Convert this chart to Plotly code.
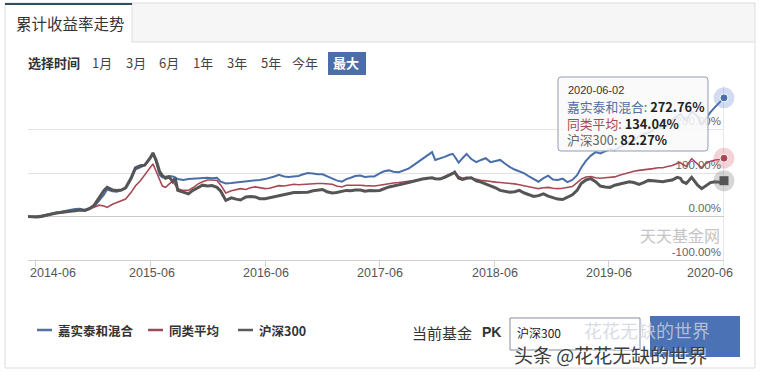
import plotly.graph_objects as go

# ---------------- data ----------------
dates = [
    "2014-05-08", "2014-05-20", "2014-06-05", "2014-06-20", "2014-07-05", "2014-07-20", "2014-08-05", "2014-08-20",
    "2014-09-05", "2014-09-20", "2014-10-05", "2014-10-20", "2014-11-05", "2014-11-20", "2014-12-05", "2014-12-20",
    "2015-01-05", "2015-01-15", "2015-02-01", "2015-02-15", "2015-03-01", "2015-03-15", "2015-04-01", "2015-04-15",
    "2015-05-01", "2015-05-15", "2015-06-01", "2015-06-10", "2015-06-20", "2015-07-01", "2015-07-10", "2015-07-20",
    "2015-08-01", "2015-08-12", "2015-08-20", "2015-08-28", "2015-09-15", "2015-10-01", "2015-10-15", "2015-11-01",
    "2015-11-15", "2015-12-01", "2015-12-15", "2015-12-31",
    "2016-01-12", "2016-01-28", "2016-02-15", "2016-03-01", "2016-03-15", "2016-04-01", "2016-04-15", "2016-05-01",
    "2016-05-15", "2016-06-01", "2016-06-15", "2016-07-01", "2016-07-15", "2016-08-01", "2016-08-15", "2016-09-01",
    "2016-09-15", "2016-10-01", "2016-10-15", "2016-11-01", "2016-11-15", "2016-12-01", "2016-12-15",
    "2017-01-01", "2017-01-15", "2017-02-01", "2017-02-15", "2017-03-01", "2017-03-15", "2017-04-01", "2017-04-15",
    "2017-05-01", "2017-05-15", "2017-06-01", "2017-06-15", "2017-07-01", "2017-07-15", "2017-08-01", "2017-08-15",
    "2017-09-01", "2017-09-15", "2017-10-01", "2017-10-15", "2017-11-01", "2017-11-15", "2017-11-25", "2017-12-10",
    "2017-12-25",
    "2018-01-10", "2018-01-20", "2018-01-26", "2018-02-08", "2018-02-20", "2018-03-05", "2018-03-20", "2018-04-05",
    "2018-04-20", "2018-05-05", "2018-05-20", "2018-06-05", "2018-06-20", "2018-07-05", "2018-07-20", "2018-08-05",
    "2018-08-20", "2018-09-05", "2018-09-20", "2018-10-05", "2018-10-20", "2018-11-05", "2018-11-20", "2018-12-05",
    "2018-12-20",
    "2019-01-05", "2019-01-20", "2019-02-05", "2019-02-20", "2019-03-05", "2019-03-20", "2019-04-05", "2019-04-20",
    "2019-05-05", "2019-05-20", "2019-06-05", "2019-06-20", "2019-07-05", "2019-07-20", "2019-08-05", "2019-08-20",
    "2019-09-05", "2019-09-20", "2019-10-05", "2019-10-20", "2019-11-05", "2019-11-20", "2019-12-05", "2019-12-20",
    "2020-01-05", "2020-01-15", "2020-01-22", "2020-02-03", "2020-02-20", "2020-03-10", "2020-03-23", "2020-04-05",
    "2020-04-20", "2020-05-05", "2020-05-20", "2020-06-02",
]

fund = [  # 嘉实泰和混合 (%)
    0, -1, 0, 2, 4, 7, 9, 11, 14, 15, 17, 18, 15, 20, 24, 36,
    50, 62, 58, 57, 60, 65, 85, 108, 114, 118, 136, 144, 126, 96, 90, 92, 93, 92, 90, 86, 84, 86, 87, 88, 89, 89, 88, 89,
    80, 76, 77, 78, 79, 81, 82, 83, 84, 86, 88, 92, 96, 92, 91, 92, 93, 97, 100, 99, 97, 97, 93,
    88, 83, 80, 86, 89, 93, 94, 91, 92, 92, 99, 104, 106, 103, 102, 106, 110, 117, 125, 133, 140, 148, 130, 133, 137,
    142, 144, 138, 124, 134, 144, 132, 125, 130, 134, 125, 127, 130, 122, 114, 108, 104, 99, 92, 85, 80, 88, 94, 85, 84,
    87, 79, 84, 95, 112, 128, 140, 148, 145, 150, 155, 152, 160, 166, 170, 175, 184, 190, 192, 198, 205, 202, 210, 222,
    232, 236, 230, 220, 242, 230, 212, 226, 240, 252, 262, 272.76,
]

peer = [  # 同类平均 (%)
    0, 0, 0, 1, 3, 5, 7, 9, 11, 12, 13, 15, 13, 17, 21, 26,
    24, 21, 28, 32, 36, 40, 55, 70, 82, 96, 112, 121, 104, 84, 70, 67, 76, 82, 72, 64, 60, 60, 66, 75, 80, 84, 84, 83,
    72, 54, 59, 62, 64, 62, 66, 68, 66, 64, 65, 68, 71, 70, 72, 74, 73, 74, 75, 76, 76, 76, 75,
    74, 70, 68, 72, 72, 73, 72, 71, 71, 70, 72, 74, 76, 77, 78, 80, 81, 82, 84, 85, 87, 89, 86, 87, 92,
    96, 100, 102, 92, 88, 90, 88, 85, 83, 82, 80, 79, 78, 77, 77, 75, 73, 71, 68, 66, 64, 66, 67, 65, 64,
    65, 67, 69, 78, 86, 91, 92, 89, 88, 89, 90, 91, 95, 98, 102, 104, 106, 107, 108, 110, 112, 112, 115, 117,
    122, 124, 120, 115, 133, 120, 112, 122, 127, 130, 131, 134.04,
]

hs300 = [  # 沪深300 (%)
    0, -1, -1, 0, 3, 6, 8, 9, 11, 12, 13, 15, 14, 18, 26, 44,
    60, 67, 61, 60, 61, 66, 88, 112, 117, 118, 134, 146, 130, 104, 94, 88, 91, 80, 88, 60, 55, 52, 60, 67, 72, 70, 71, 67,
    58, 37, 43, 40, 38, 45, 46, 45, 41, 41, 43, 46, 48, 49, 52, 55, 55, 56, 56, 59, 61, 62, 57,
    54, 55, 57, 60, 59, 61, 61, 58, 60, 59, 60, 64, 68, 70, 72, 75, 78, 81, 84, 86, 88, 89, 87, 86, 90,
    95, 99, 102, 88, 85, 88, 89, 82, 79, 75, 71, 66, 60, 58, 56, 57, 60, 54, 50, 46, 48, 52, 47, 44, 40,
    39, 45, 50, 60, 76, 84, 87, 80, 70, 68, 67, 72, 75, 77, 80, 78, 74, 78, 83, 82, 81, 80, 82, 84,
    90, 88, 80, 76, 90, 72, 64, 70, 78, 80, 79, 82.27,
]

series_names = ["嘉实泰和混合", "同类平均", "沪深300"]
x_tick_dates = ["2014-06-01", "2015-06-01", "2016-06-01", "2017-06-01", "2018-06-01", "2019-06-01", "2020-06-01"]
x_tick_labels = ["2014-06", "2015-06", "2016-06", "2017-06", "2018-06", "2019-06", "2020-06"]
y_tick_vals = [-100, 0, 100, 200]
y_tick_text = ["-100.00%", "0.00%", "100.00%", "200.00%"]
tooltip_date = "2020-06-02"
time_buttons = ["1月", "3月", "6月", "1年", "3年", "5年", "今年", "最大"]

# ---------------- styling ----------------
W, H = 761, 372
BLUE = "#4a6fa8"
RED = "#a84854"
GREY = "#555555"
CJK = "Noto Sans CJK SC"
LAT = "Liberation Sans"


def px(x):
    return x / W


def py(y):
    return 1 - y / H


fig = go.Figure()

colors = [BLUE, RED, GREY]
widths = [2, 1.6, 3]
for name, vals, c, w in zip(series_names, [fund, peer, hs300], colors, widths):
    fig.add_trace(go.Scatter(x=dates, y=vals, name=name, mode="lines",
                             line=dict(color=c, width=w), hoverinfo="skip"))

# end-point halos and markers
halo = ["rgba(90,125,205,0.28)", "rgba(215,95,110,0.28)", "rgba(120,120,120,0.30)"]
symbols = ["circle", "circle", "square"]
for vals, c, hc, sym in zip([fund, peer, hs300], colors, halo, symbols):
    fig.add_trace(go.Scatter(x=[dates[-1]], y=[vals[-1]], mode="markers", cliponaxis=False,
                             marker=dict(size=21, color=hc, line=dict(width=0)), hoverinfo="skip"))
    fig.add_trace(go.Scatter(x=[dates[-1]], y=[vals[-1]], mode="markers", cliponaxis=False,
                             marker=dict(size=8 if sym == "circle" else 9, color=c, symbol=sym,
                                         line=dict(width=1, color="white") if sym == "circle" else dict(width=0)),
                             hoverinfo="skip"))

shapes = []
annotations = []

# panel frame and header
shapes.append(dict(type="rect", xref="paper", yref="paper", x0=px(132), x1=px(755), y0=py(42), y1=py(3),
                   fillcolor="#f6f6f6", line=dict(width=0), layer="below"))
shapes.append(dict(type="rect", xref="paper", yref="paper", x0=px(5), x1=px(755), y0=py(368), y1=py(3),
                   fillcolor="rgba(0,0,0,0)", line=dict(color="#dddddd", width=1), layer="below"))
shapes.append(dict(type="line", xref="paper", yref="paper", x0=px(132), x1=px(755), y0=py(42), y1=py(42),
                   line=dict(color="#dddddd", width=1), layer="below"))
shapes.append(dict(type="line", xref="paper", yref="paper", x0=px(132), x1=px(132), y0=py(42), y1=py(3),
                   line=dict(color="#dddddd", width=1), layer="below"))
shapes.append(dict(type="line", xref="paper", yref="paper", x0=px(5), x1=px(132), y0=py(4), y1=py(4),
                   line=dict(color="#2e4d5e", width=2), layer="below"))
annotations.append(dict(x=px(14), y=py(23), xref="paper", yref="paper", xanchor="left", yanchor="middle",
                        text="累计收益率走势", showarrow=False, font=dict(family=CJK, size=15.5, color="#333")))

# time selector
annotations.append(dict(x=px(26), y=py(63), xref="paper", yref="paper", xanchor="left", yanchor="middle",
                        text="<b>选择时间</b>", showarrow=False, font=dict(family=CJK, size=13, color="#333")))
btn_centers = [102, 136, 169, 203, 237, 271, 305, 346]
for lab, cx in zip(time_buttons, btn_centers):
    sel = lab == "最大"
    if sel:
        shapes.append(dict(type="rect", xref="paper", yref="paper", x0=px(328), x1=px(366), y0=py(75), y1=py(52),
                           fillcolor="#4b6ea9", line=dict(width=0), layer="below"))
    annotations.append(dict(x=px(cx), y=py(63), xref="paper", yref="paper", xanchor="center", yanchor="middle",
                            text=("<b>%s</b>" % lab) if sel else lab, showarrow=False,
                            font=dict(family=CJK, size=13, color="white" if sel else "#444")))

# crosshair
shapes.append(dict(type="line", xref="x", yref="paper", x0=tooltip_date, x1=tooltip_date,
                   y0=py(266), y1=py(86), line=dict(color="#cfcfcf", width=1), layer="below"))

# x-axis labels (clamped inside like the original)
x_label_centers = [53, 152, 266, 380, 495, 609, 710]
for lab, cx in zip(x_tick_labels, x_label_centers):
    annotations.append(dict(x=px(cx), y=py(273), xref="paper", yref="paper", xanchor="center", yanchor="middle",
                            text=lab, showarrow=False, font=dict(family=LAT, size=12.5, color="#555")))

# watermark in plot
annotations.append(dict(x=px(722), y=py(235), xref="paper", yref="paper", xanchor="right", yanchor="middle",
                        text="天天基金网", showarrow=False, font=dict(family=CJK, size=16, color="#c4c4c4")))

# tooltip box (rounded)
x0, x1, y0, y1, r = 558, 708, 77, 151, 3
path = ("M {a},{b} L {c},{b} Q {x1},{b} {x1},{d} L {x1},{e} Q {x1},{y1} {c},{y1} L {a},{y1} "
        "Q {x0},{y1} {x0},{e} L {x0},{d} Q {x0},{b} {a},{b} Z").format(
    a=px(x0 + r), b=py(y0), c=px(x1 - r), d=py(y0 + r), e=py(y1 - r),
    x0=px(x0), x1=px(x1), y1=py(y1))
shapes.append(dict(type="path", xref="paper", yref="paper", path=path,
                   fillcolor="rgba(249,249,249,0.86)", line=dict(color="#8f9db5", width=1), layer="above"))
annotations.append(dict(x=px(566), y=py(90), xref="paper", yref="paper", xanchor="left", yanchor="middle",
                        text=tooltip_date, showarrow=False, font=dict(family=LAT, size=11, color="#333")))
tip_vals = [fund[-1], peer[-1], hs300[-1]]
tip_cols = [BLUE, RED, "#666666"]
tip_lines = ["<span style='color:%s'>%s: </span><b>%.2f%%</b>" % (c, nm, v)
             for nm, v, c in zip(series_names, tip_vals, tip_cols)]
annotations.append(dict(x=px(566), y=py(123), xref="paper", yref="paper", xanchor="left", yanchor="middle",
                        align="left", showarrow=False, borderpad=0, text="<br>".join(tip_lines),
                        font=dict(family=CJK, size=12.8, color="#222")))

# legend
leg_x = [37, 148, 238]
leg_cols = ["#56709a", "#9c4a55", "#5a5a5a"]
for nm, lx, c in zip(series_names, leg_x, leg_cols):
    shapes.append(dict(type="line", xref="paper", yref="paper", x0=px(lx), x1=px(lx + 15), y0=py(330), y1=py(330),
                       line=dict(color=c, width=2.5)))
    annotations.append(dict(x=px(lx + 19), y=py(330), xref="paper", yref="paper", xanchor="left", yanchor="middle",
                            text="<b>%s</b>" % nm, showarrow=False, font=dict(family=CJK, size=12.5, color="#333")))

# PK area
annotations.append(dict(x=px(410), y=py(332), xref="paper", yref="paper", xanchor="left", yanchor="middle",
                        text="当前基金", showarrow=False, font=dict(family=CJK, size=15, color="#333")))
annotations.append(dict(x=px(480), y=py(332), xref="paper", yref="paper", xanchor="left", yanchor="middle",
                        text="<b>PK</b>", showarrow=False, font=dict(family=LAT, size=14, color="#333")))
shapes.append(dict(type="rect", xref="paper", yref="paper", x0=px(510), x1=px(640), y0=py(350), y1=py(318),
                   fillcolor="white", line=dict(color="#7f8ea8", width=1)))
annotations.append(dict(x=px(515), y=py(332), xref="paper", yref="paper", xanchor="left", yanchor="middle",
                        text="沪深300", showarrow=False, font=dict(family=CJK, size=12, color="#222")))
shapes.append(dict(type="rect", xref="paper", yref="paper", x0=px(650), x1=px(740), y0=py(357), y1=py(316),
                   fillcolor="#4a72b4", line=dict(width=0)))

# overlaid watermarks
annotations.append(dict(x=px(582), y=py(330), xref="paper", yref="paper", xanchor="left", yanchor="middle",
                        text="花花无缺的世界", showarrow=False,
                        font=dict(family=CJK, size=18, color="rgba(205,210,222,0.80)")))
annotations.append(dict(x=px(512), y=py(354), xref="paper", yref="paper", xanchor="left", yanchor="middle",
                        text="头条 @花花无缺的世界", showarrow=False,
                        font=dict(family=CJK, size=19, color="#3c3c3c", shadow="1px 1px 1px white")))

fig.update_layout(
    width=W, height=H, margin=dict(l=0, r=0, t=0, b=0),
    paper_bgcolor="white", plot_bgcolor="white", showlegend=False,
    shapes=shapes, annotations=annotations,
    xaxis=dict(domain=[px(28), px(724)], range=[dates[0], dates[-1]], type="date",
               showgrid=False, zeroline=False, showline=True, linecolor="#d0d0d0", linewidth=1,
               tickvals=x_tick_dates, showticklabels=False, ticks="outside", ticklen=6,
               tickcolor="#d0d0d0", fixedrange=True),
    yaxis=dict(domain=[py(260), py(86)], range=[-100, 300], side="right",
               tickvals=y_tick_vals, ticktext=y_tick_text, ticklabelposition="inside top",
               showgrid=True, gridcolor="#e3e3e3", gridwidth=1,
               zeroline=True, zerolinecolor="#c9c9c9", zerolinewidth=1.2,
               showline=False, ticks="", tickfont=dict(family=LAT, size=11.5, color="#666"),
               fixedrange=True),
)

fig.write_html("out.html")
